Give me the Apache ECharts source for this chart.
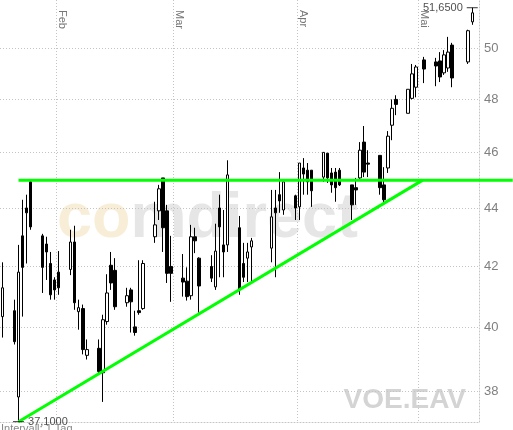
<!DOCTYPE html>
<html><head><meta charset="utf-8">
<script src="https://cdn.jsdelivr.net/npm/echarts@6/dist/echarts.min.js"></script>
<style>html,body{margin:0;padding:0;background:#fff}#c{width:513px;height:430px}</style>
</head><body><div id="c"></div>
<script>
const dates = ['2008-01-18','2008-01-21','2008-01-22','2008-01-23','2008-01-24','2008-01-25',
'2008-01-28','2008-01-29','2008-01-30','2008-01-31','2008-02-01',
'2008-02-04','2008-02-05','2008-02-06','2008-02-07','2008-02-08',
'2008-02-11','2008-02-12','2008-02-13','2008-02-14','2008-02-15',
'2008-02-18','2008-02-19','2008-02-20','2008-02-21','2008-02-22',
'2008-02-25','2008-02-26','2008-02-27','2008-02-28','2008-02-29',
'2008-03-03','2008-03-04','2008-03-05','2008-03-06','2008-03-07',
'2008-03-10','2008-03-11','2008-03-12','2008-03-13','2008-03-14',
'2008-03-17','2008-03-18','2008-03-19','2008-03-20',
'2008-03-25','2008-03-26','2008-03-27','2008-03-28',
'2008-03-31','2008-04-01','2008-04-02','2008-04-03','2008-04-04',
'2008-04-07','2008-04-08','2008-04-09','2008-04-10','2008-04-11',
'2008-04-14','2008-04-15','2008-04-16','2008-04-17','2008-04-18',
'2008-04-21','2008-04-22','2008-04-23','2008-04-24','2008-04-25',
'2008-04-28','2008-04-29','2008-04-30',
'2008-05-02','2008-05-05','2008-05-06','2008-05-07','2008-05-08','2008-05-09',
'2008-05-13','2008-05-14'];
const open = [40.35,40.54,37.84,43.04,44.01,44.94,
43.04,42.76,42.10,41.55,41.81,
41.90,42.83,40.51,40.61,39.12,
39.34,38.58,40.19,42.04,41.87,
40.80,41.22,40.02,40.54,40.61,
43.01,43.91,45.08,43.91,42.00,
41.61,41.51,41.03,43.01,42.28,
42.00,41.32,44.01,42.73,42.73,
43.32,42.10,42.28,42.66,
42.62,44.01,44.48,43.94,
44.44,44.05,45.44,45.36,45.36,
45.11,45.98,45.26,45.29,45.36,
44.83,44.73,45.08,46.39,45.62,
45.90,44.83,45.44,47.02,48.00,
47.47,48.04,48.47,
49.54,49.46,49.50,49.03,49.22,50.13,
49.46,51.07];
const close = [41.29,39.55,41.81,41.97,43.84,43.35,
41.97,42.49,41.06,41.22,41.29,
42.83,40.80,40.64,39.30,39.30,
38.62,40.25,41.12,41.45,40.67,
41.03,40.83,39.84,40.48,42.10,
43.42,44.69,43.32,41.77,41.77,
41.48,41.00,43.01,42.87,41.35,
41.61,42.52,43.35,42.49,45.19,
41.22,41.64,42.49,42.87,
43.70,43.84,44.26,44.94,
44.01,45.62,45.22,44.94,44.62,
46.01,45.08,44.83,44.73,44.83,
44.12,44.65,46.09,45.29,45.58,
44.73,44.30,46.61,47.66,47.81,
48.39,48.99,49.26,
49.18,49.30,48.87,49.74,49.85,48.83,
50.71,51.44];
const low = [39.68,39.46,37.10,40.35,42.10,43.25,
41.12,41.55,40.90,40.90,41.06,
41.71,40.57,39.93,39.15,38.99,
38.52,37.69,40.09,41.22,40.57,
40.67,39.84,39.74,40.41,40.57,
42.80,43.59,42.49,41.45,40.83,
41.00,40.87,40.90,42.45,40.48,
41.48,41.22,41.64,41.64,42.49,
41.06,41.48,41.48,41.48,
42.14,41.64,43.84,43.77,
43.59,43.59,44.48,44.48,44.05,
44.94,44.90,44.55,44.23,44.79,
43.59,44.12,45.01,45.11,45.11,
44.48,44.12,45.26,46.46,47.40,
47.47,48.00,48.08,
48.63,48.51,48.67,48.95,49.07,48.47,
49.38,50.95];
const high = [42.14,40.90,42.73,44.30,44.48,45.01,
43.11,43.01,42.49,41.64,42.52,
43.25,43.39,40.90,40.74,39.62,
39.62,40.41,41.74,42.49,42.28,
41.29,41.29,40.54,42.21,42.21,
44.23,44.83,45.08,44.12,43.04,
42.42,41.97,43.42,43.32,42.31,
42.38,43.46,44.48,43.94,45.72,
43.73,42.80,42.80,42.97,
44.65,44.65,45.29,44.94,
44.48,45.62,45.80,45.62,45.36,
46.01,45.98,45.44,45.44,45.44,
44.83,45.08,46.39,46.99,46.09,
45.90,45.47,46.80,48.00,48.16,
48.39,49.38,49.34,
49.66,49.62,49.85,49.93,50.46,50.22,
50.75,51.65];

const yTicks = [38, 40, 42, 44, 46, 48, 50];
const monthStarts = ['2008-02-01', '2008-03-01', '2008-04-01', '2008-05-01'];
const monthLabels = ['Feb', 'Mar', 'Apr', 'Mai'];
const resistanceLine = [['2008-01-22T12:00:00Z', 45.0], ['2008-05-24T14:00:00Z', 45.0]];
const trendLine = [['2008-01-22T12:00:00Z', 37.10], ['2008-05-02T04:00:00Z', 45.0]];
const xRange = ['2008-01-17T21:22:00Z', '2008-05-16T04:19:00Z'];
const yRange = [37.09, 51.97];

const W = 513, PLOT_W = 479;
const L = Math.log;
const ts = s => Date.parse(s.length === 10 ? s + 'T12:00:00Z' : s);
const monthTs = monthStarts.map(s => Date.parse(s + 'T00:00:00Z'));
const candles = dates.map((d, i) => [ts(d), L(open[i]), L(close[i]), L(low[i]), L(high[i])]);
const x0 = ts(xRange[0]), x1 = ts(xRange[1]);
const x1wide = x0 + (x1 - x0) * W / PLOT_W;

let iMax = 0, iMin = 0;
high.forEach((v, i) => { if (v > high[iMax]) iMax = i; });
low.forEach((v, i) => { if (v < low[iMin]) iMin = i; });
const fmt4 = v => v.toFixed(4).replace('.', ',');

const FONT = '"Liberation Sans", Arial, sans-serif';
const grid = '#c4c4c4';
const dotted = {color: grid, type: [1, 2], width: 1};

const chart = echarts.init(document.getElementById('c'), null, {renderer: 'canvas'});
chart.setOption({
  animation: false,
  backgroundColor: '#fff',
  grid: [
    {left: 0, right: W - PLOT_W, top: 0, bottom: 8, show: false},
    {left: 0, right: 0, top: 0, bottom: 8, show: false}
  ],
  xAxis: [{
    type: 'value', gridIndex: 0, min: x0, max: x1, position: 'bottom',
    axisLine: {show: true, lineStyle: dotted},
    axisTick: {show: false, customValues: monthTs},
    axisLabel: {show: false, customValues: monthTs},
    splitLine: {show: true, lineStyle: dotted}
  }, {
    type: 'value', gridIndex: 0, min: x0, max: x1, position: 'top',
    axisLine: {show: false}, axisTick: {show: false, customValues: monthTs}, splitLine: {show: false},
    axisLabel: {
      show: true, inside: true, rotate: 90, margin: 10, verticalAlign: 'bottom',
      customValues: monthTs, color: '#777', fontSize: 11, fontFamily: FONT,
      formatter: v => { const k = monthTs.indexOf(v); return k >= 0 ? monthLabels[k] : ''; }
    }
  }, {
    type: 'value', gridIndex: 1, min: x0, max: x1wide, show: false
  }],
  yAxis: [{
    type: 'value', gridIndex: 0, position: 'right', min: L(yRange[0]), max: L(yRange[1]),
    axisLine: {show: true, lineStyle: dotted},
    axisTick: {show: false, customValues: yTicks.map(L)},
    axisLabel: {show: true, customValues: yTicks.map(L), margin: 5, color: '#808080', fontSize: 13, fontFamily: FONT,
      formatter: v => String(Math.round(Math.exp(v)))},
    splitLine: {show: true, lineStyle: dotted}
  }, {
    type: 'value', gridIndex: 1, min: L(yRange[0]), max: L(yRange[1]), show: false
  }],
  series: [{
    type: 'candlestick', xAxisIndex: 0, yAxisIndex: 0, barWidth: 3,
    data: candles,
    itemStyle: {color: '#ffffff', color0: '#000000', borderColor: '#000000', borderColor0: '#000000', borderWidth: 1},
    z: 3
  }, {
    type: 'line', xAxisIndex: 2, yAxisIndex: 1, data: resistanceLine.map(p => [ts(p[0]), L(p[1])]), symbol: 'none',
    lineStyle: {color: '#00ff00', width: 3}, z: 4
  }, {
    type: 'line', xAxisIndex: 2, yAxisIndex: 1, data: trendLine.map(p => [ts(p[0]), L(p[1])]), symbol: 'none',
    lineStyle: {color: '#00ff00', width: 3}, z: 4
  }, {
    type: 'scatter', xAxisIndex: 0, yAxisIndex: 0, symbol: 'rect', symbolSize: [11, 1], z: 5,
    itemStyle: {color: '#000'},
    data: [
      {value: [ts(dates[iMax]), L(high[iMax])], label: {show: true, position: 'left', distance: 4, formatter: fmt4(high[iMax])}},
      {value: [ts(dates[iMin]), L(low[iMin])], label: {show: true, position: 'right', distance: 4, formatter: fmt4(low[iMin])}}
    ],
    label: {color: '#222', fontSize: 11, fontFamily: FONT}
  }],
  graphic: [
    {type: 'text', left: 57, top: 188, z: 0, silent: true,
      style: {text: '{a|co}{b|mdirect}', font: 'bold 63px ' + FONT,
        rich: {a: {fill: '#f8eed8', font: 'bold 63px ' + FONT}, b: {fill: '#e6e6e6', font: 'bold 63px ' + FONT}}}},
    {type: 'text', right: 47, top: 386, z: 0, silent: true,
      style: {text: 'VOE.EAV', font: 'bold 28px ' + FONT, fill: '#d4d4d4'}},
    {type: 'text', left: 1, top: 423, z: 6, silent: true,
      style: {text: 'Intervall: 1 Tag', font: '11px ' + FONT, fill: '#888'}}
  ]
});
</script></body></html>
